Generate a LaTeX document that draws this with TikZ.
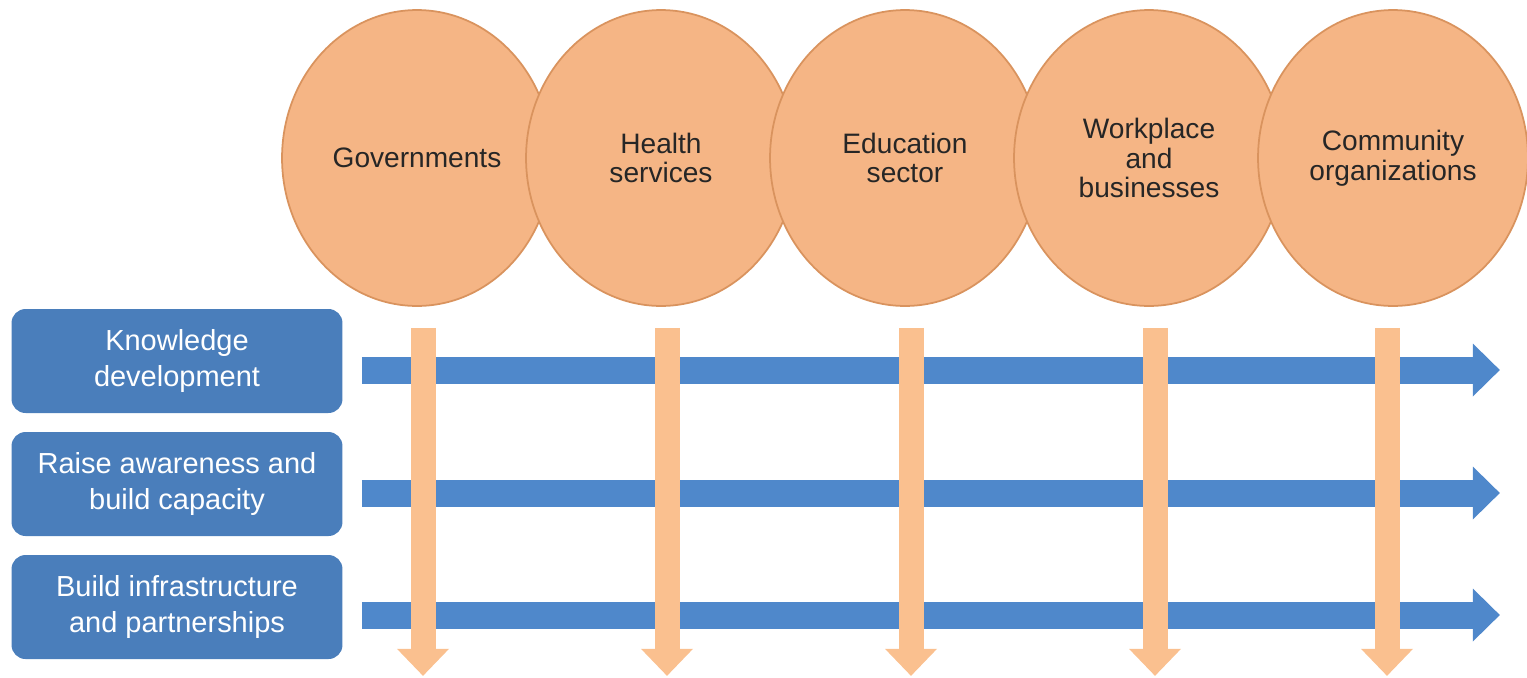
\documentclass[tikz,border=0pt]{standalone}
\usepackage{fontspec}
\setmainfont{Liberation Sans}
\usetikzlibrary{shapes.geometric,arrows.meta}
\definecolor{peach}{HTML}{F5B585}
\definecolor{peachrim}{HTML}{D9935E}
\definecolor{peacharrow}{HTML}{FAC08F}
\definecolor{boxblue}{HTML}{4A7EBB}
\definecolor{arrowblue}{HTML}{4F88CB}
\begin{document}
\begin{tikzpicture}[x=0.02cm,y=-0.02cm,
	sector/.style={ellipse,minimum width=5.4cm,minimum height=5.92cm,inner sep=0pt,fill=peach,draw=peachrim,line width=1pt,align=center,text=black!85,font=\fontsize{16}{17}\selectfont},
	action/.style={rounded corners=0.28cm,minimum width=6.62cm,minimum height=2.08cm,fill=boxblue,text=white,align=center,font=\fontsize{16.5}{20}\selectfont},
	actionarrow/.style={arrowblue,line width=0.54cm,-{Triangle[length=0.54cm,width=1.06cm,line width=0pt]}},
	sectorarrow/.style={peacharrow,line width=0.5cm,-{Triangle[length=0.54cm,width=1.04cm,line width=0pt]}}]
	\useasboundingbox (0,0) rectangle (1527,677);
	\node[sector] (gov) at (417,158) {Governments};
	\node[sector] (hlth) at (661,158) {Health\\services};
	\node[sector] (edu) at (905,158) {Education\\sector};
	\node[sector] (work) at (1149,158) {Workplace\\and\\businesses};
	\node[sector] (comm) at (1393,158) {Community\\organizations};

	\node[action] (know) at (177,361) {Knowledge\\development};
	\node[action] (aware) at (177,484) {Raise awareness and\\build capacity};
	\node[action] (infra) at (177,607) {Build infrastructure\\and partnerships};

	\draw[actionarrow] ([shift={(19,9)}]know.east) -- ++(1138,0);
	\draw[actionarrow] ([shift={(19,9)}]aware.east) -- ++(1138,0);
	\draw[actionarrow] ([shift={(19,8)}]infra.east) -- ++(1138,0);

	\draw[sectorarrow] ([shift={(6,21)}]gov.south) -- ++(0,348);
	\draw[sectorarrow] ([shift={(6,21)}]hlth.south) -- ++(0,348);
	\draw[sectorarrow] ([shift={(6,21)}]edu.south) -- ++(0,348);
	\draw[sectorarrow] ([shift={(6,21)}]work.south) -- ++(0,348);
	\draw[sectorarrow] ([shift={(-6,21)}]comm.south) -- ++(0,348);
\end{tikzpicture}
\end{document}
